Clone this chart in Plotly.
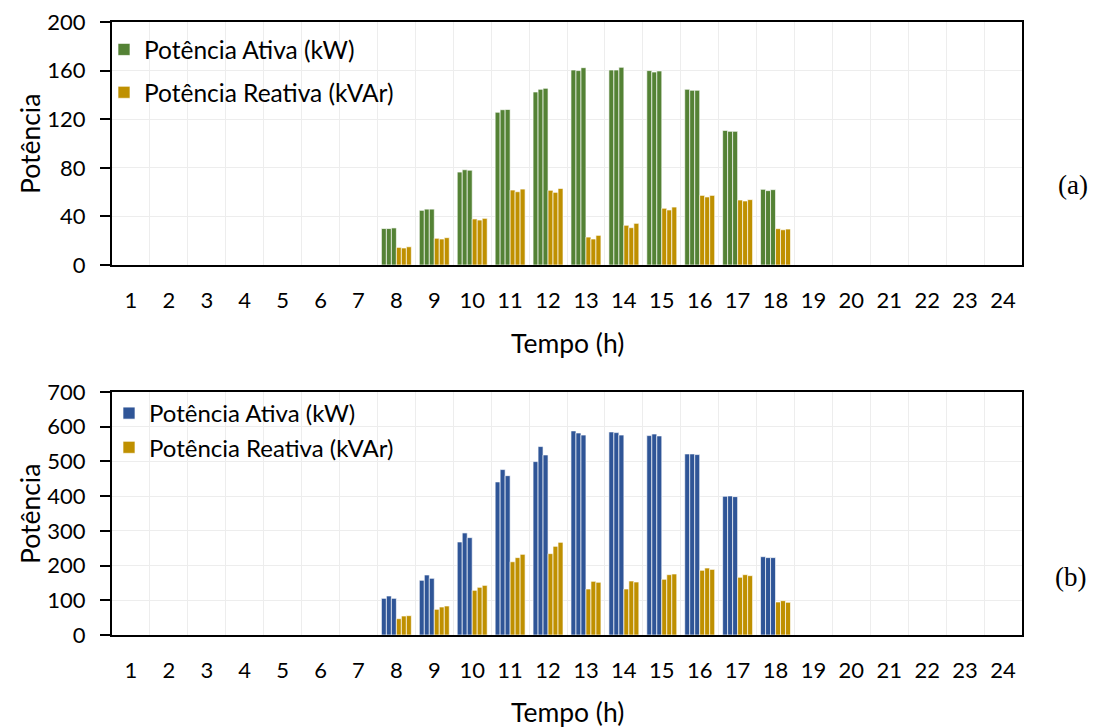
import plotly.graph_objects as go

# Hours of the day (categorical x axis)
hours = [str(h) for h in range(1, 25)]

# ---- Panel (a): per-phase active (kW) and reactive (kVAr) power ----
a_ativa_f1 = [0, 0, 0, 0, 0, 0, 0, 30, 45, 76.5, 125.7, 142.4, 160.5, 160.5, 160, 144.6, 110.8, 62.3, 0, 0, 0, 0, 0, 0]
a_ativa_f2 = [0, 0, 0, 0, 0, 0, 0, 30, 46, 78.4, 127.8, 144.6, 160, 160.5, 158.8, 143.8, 110, 61.2, 0, 0, 0, 0, 0, 0]
a_ativa_f3 = [0, 0, 0, 0, 0, 0, 0, 30.5, 46, 78, 128, 145.4, 162.4, 162.7, 159.7, 143.8, 110, 62, 0, 0, 0, 0, 0, 0]
a_reativa_f1 = [0, 0, 0, 0, 0, 0, 0, 14.5, 22, 37.9, 61.7, 61.5, 23, 32.7, 46.7, 57.3, 53.5, 29.9, 0, 0, 0, 0, 0, 0]
a_reativa_f2 = [0, 0, 0, 0, 0, 0, 0, 14, 21.4, 37, 60.3, 59.8, 21.4, 30.7, 45.3, 56, 52.7, 29, 0, 0, 0, 0, 0, 0]
a_reativa_f3 = [0, 0, 0, 0, 0, 0, 0, 15, 22.5, 38.4, 62.5, 63, 24.4, 34.3, 47.7, 57.3, 53.8, 29.6, 0, 0, 0, 0, 0, 0]

# ---- Panel (b) ----
b_ativa_f1 = [0, 0, 0, 0, 0, 0, 0, 105.6, 157.6, 268, 441, 499.5, 588, 585, 574.4, 521.6, 399.7, 225.6, 0, 0, 0, 0, 0, 0]
b_ativa_f2 = [0, 0, 0, 0, 0, 0, 0, 112.4, 172.9, 294, 476.5, 542.8, 582, 583, 579, 521.6, 400.6, 222.9, 0, 0, 0, 0, 0, 0]
b_ativa_f3 = [0, 0, 0, 0, 0, 0, 0, 105.6, 163.3, 280.5, 459, 518.7, 576, 576, 573.5, 519.7, 398.6, 222.9, 0, 0, 0, 0, 0, 0]
b_reativa_f1 = [0, 0, 0, 0, 0, 0, 0, 47, 74, 128.7, 211, 234.4, 132.6, 132.6, 160.5, 186.4, 166.3, 95.1, 0, 0, 0, 0, 0, 0]
b_reativa_f2 = [0, 0, 0, 0, 0, 0, 0, 54.7, 80.7, 137.4, 222.9, 255.5, 154.7, 155.6, 173.8, 193, 173.8, 98.9, 0, 0, 0, 0, 0, 0]
b_reativa_f3 = [0, 0, 0, 0, 0, 0, 0, 55.7, 83.6, 143, 232.4, 267, 151.9, 152.7, 175.8, 189, 170.9, 94.2, 0, 0, 0, 0, 0, 0]

label_ativa = "Potência Ativa (kW)"
label_reativa = "Potência Reativa (kVAr)"

GREEN = "#548235"
BLUE = "#2F5597"
GOLD = "#BF9000"
EDGE = "rgba(255,255,255,0.65)"
FONT = "Lato, 'Open Sans', sans-serif"

W, H = 1095, 727

fig = go.Figure()


def add_panel(ativa, reativa, color, xa, ya, legend):
    for i, ys in enumerate(ativa):
        fig.add_trace(go.Bar(
            x=hours, y=ys, name=label_ativa, legendgroup="ativa" + legend,
            showlegend=(i == 0), legend=legend, xaxis=xa, yaxis=ya,
            marker=dict(color=color, line=dict(color=EDGE, width=1)),
        ))
    for i, ys in enumerate(reativa):
        fig.add_trace(go.Bar(
            x=hours, y=ys, name=label_reativa, legendgroup="reativa" + legend,
            showlegend=(i == 0), legend=legend, xaxis=xa, yaxis=ya,
            marker=dict(color=GOLD, line=dict(color=EDGE, width=1)),
        ))


add_panel([a_ativa_f1, a_ativa_f2, a_ativa_f3],
          [a_reativa_f1, a_reativa_f2, a_reativa_f3], GREEN, "x", "y", "legend")
add_panel([b_ativa_f1, b_ativa_f2, b_ativa_f3],
          [b_reativa_f1, b_reativa_f2, b_reativa_f3], BLUE, "x2", "y2", "legend2")


def px_x(p):
    return p / W


def px_y(p):
    return 1 - p / H


xdom = [px_x(112), px_x(1022)]

xcommon = dict(
    type="category", tickson="boundaries", ticks="", showgrid=True,
    gridcolor="#EDEDED", gridwidth=1, showline=True, linecolor="black",
    linewidth=2, mirror=True, tickfont=dict(family=FONT, size=22, color="black"),
    ticklabelstandoff=15, domain=xdom, automargin=False,
)
ycommon = dict(
    showgrid=True, gridcolor="#EDEDED", gridwidth=1, showline=True,
    linecolor="black", linewidth=2, mirror=True, ticks="outside", ticklen=10,
    tickwidth=1.5, tickcolor="black", zeroline=False, automargin=False,
    tickfont=dict(family=FONT, size=22, color="black"), ticklabelstandoff=10,
)

fig.update_layout(
    width=W, height=H,
    margin=dict(l=0, r=0, t=0, b=0),
    paper_bgcolor="white", plot_bgcolor="white",
    barmode="group", bargap=0.21, bargroupgap=0,
    xaxis=dict(xcommon, anchor="y"),
    yaxis=dict(ycommon, anchor="x", domain=[px_y(265), px_y(22)],
               range=[0, 200], tickvals=[0, 40, 80, 120, 160, 200]),
    xaxis2=dict(xcommon, anchor="y2"),
    yaxis2=dict(ycommon, anchor="x2", domain=[px_y(635), px_y(392)],
                range=[0, 700], tickvals=[0, 100, 200, 300, 400, 500, 600, 700]),
    legend=dict(x=px_x(104), y=px_y(27), xanchor="left", yanchor="top",
                bgcolor="rgba(0,0,0,0)", font=dict(family=FONT, size=24.5, color="black"),
                tracegroupgap=8, traceorder="grouped"),
    legend2=dict(x=px_x(109), y=px_y(391), xanchor="left", yanchor="top",
                 bgcolor="rgba(0,0,0,0)", font=dict(family=FONT, size=24, color="black"),
                 tracegroupgap=0, traceorder="grouped"),
    showlegend=True,
)

annots = [
    dict(text="Tempo (h)", x=px_x(567), y=px_y(343)),
    dict(text="Tempo (h)", x=px_x(567), y=px_y(712)),
    dict(text="Potência", x=px_x(30), y=px_y(144), textangle=-90),
    dict(text="Potência", x=px_x(30), y=px_y(514), textangle=-90),
]
for a in annots:
    fig.add_annotation(xref="paper", yref="paper", showarrow=False,
                       xanchor="center", yanchor="middle",
                       font=dict(family=FONT, size=26.5, color="black"), **a)

for txt, xp, yp in [("(a)", 1073, 185), ("(b)", 1070, 577)]:
    fig.add_annotation(text=txt, xref="paper", yref="paper", x=px_x(xp), y=px_y(yp),
                       showarrow=False, xanchor="center", yanchor="middle",
                       font=dict(family="Liberation Serif, serif", size=27, color="black"))

fig.write_html("out.html")
